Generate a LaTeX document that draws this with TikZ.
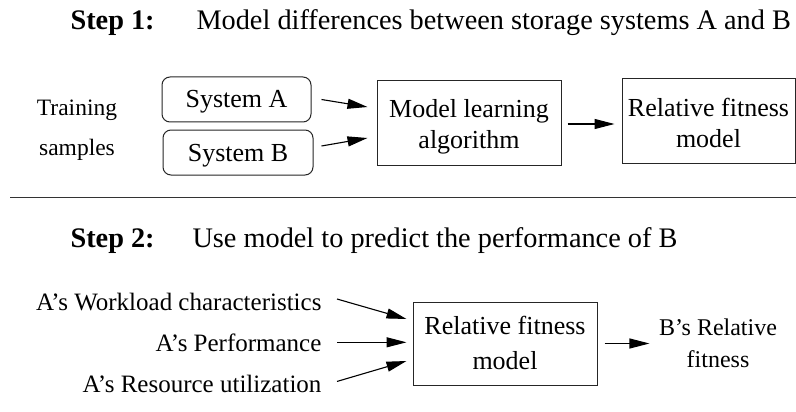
\documentclass[tikz,border=0pt]{standalone}
\usepackage{fontspec}
\setmainfont{Liberation Serif}
\usetikzlibrary{arrows.meta,calc}
\begin{document}
\begin{tikzpicture}[x=1pt,y=-1pt,
  box/.style={draw=black!85, line width=1pt, align=center, inner sep=0pt},
  rbox/.style={box, rounded corners=8pt, minimum height=45pt,
               text height=17pt, text depth=0pt, font=\fontsize{26}{31}\selectfont},
  lbl/.style={font=\fontsize{25}{30}\selectfont},
  ttl/.style={anchor=base west, font=\fontsize{28.3}{34}\selectfont},
  arr/.style={-{Triangle[length=20pt,width=10pt]}, line width=1.1pt}]
  % canvas
  \fill[white] (0,0) rectangle (796,412);
  \useasboundingbox (0,0) rectangle (796,412);

  % ---- Step 1 ----
  \node[ttl, font=\fontsize{28.3}{34}\selectfont\bfseries] (s1) at (67,30) {Step 1:};
  \node[ttl] (s1t) at (193,30) {Model differences between storage systems A and B};

  % multi-line nodes sit on the baseline of their last line
  \node[anchor=base, align=center, font=\fontsize{23.5}{40}\selectfont] (ts) at (77,155) {Training\\samples};
  \node[rbox, minimum width=149pt] (sa) at (236.5,99.5) {System A};
  \node[rbox, minimum width=150pt] (sb) at (238,152.5) {System B};
  \node[box, minimum width=184pt, minimum height=84pt, text height=56pt, text depth=6pt,
        font=\fontsize{26}{31}\selectfont] (ml) at (469,123) {Model learning\\algorithm};
  \node[box, minimum width=173pt, minimum height=84pt, text height=58pt, text depth=6pt,
        font=\fontsize{26}{31}\selectfont] (rf1) at (708.5,121) {Relative fitness\\model};

  \draw[arr] ([xshift=10pt]sa.east) -- ([xshift=-9pt,yshift=16pt]ml.west);
  \draw[arr] ([xshift=8pt,yshift=6.5pt]sb.east) -- ([xshift=-9pt,yshift=-15pt]ml.west);
  \draw[arr] ([xshift=6pt,yshift=-1pt]ml.east) -- ([xshift=-7pt,yshift=-1pt]ml.east -| rf1.west);

  % separator
  \coordinate (sepL) at (10,197);
  \coordinate (sepR) at (796,197);
  \draw[line width=1pt, black!80] (sepL) -- (sepR);

  % ---- Step 2 ----
  \node[ttl, font=\fontsize{28.3}{34}\selectfont\bfseries] (s2) at (67,247) {Step 2:};
  \node[ttl] (s2t) at (189,247) {Use model to predict the performance of B};

  \node[lbl, anchor=base east] (wl) at (325,310) {A’s Workload characteristics};
  \node[lbl, anchor=base east] (pf) at (325,351) {A’s Performance};
  \node[lbl, anchor=base east] (ru) at (325,392) {A’s Resource utilization};
  \node[box, minimum width=184pt, minimum height=83pt, text height=57pt, text depth=6pt,
        font=\fontsize{26}{35}\selectfont] (rf2) at (505,343.5) {Relative fitness\\model};
  \node[anchor=base, align=center, font=\fontsize{24}{32}\selectfont] (br) at (718,367) {B’s Relative\\fitness};

  \draw[arr] ([xshift=12pt,yshift=2.5pt]wl.east) -- ([xshift=-6pt,yshift=24.5pt]rf2.west);
  \draw[arr] ([xshift=12pt]pf.east) -- ([xshift=-6pt]pf.east -| rf2.west);
  \draw[arr] ([xshift=12pt,yshift=2pt]ru.east) -- ([xshift=-6pt,yshift=-17.5pt]rf2.west);
  \draw[arr] ([xshift=7pt]rf2.east) -- ([xshift=-6pt]rf2.east -| br.west);
\end{tikzpicture}
\end{document}
